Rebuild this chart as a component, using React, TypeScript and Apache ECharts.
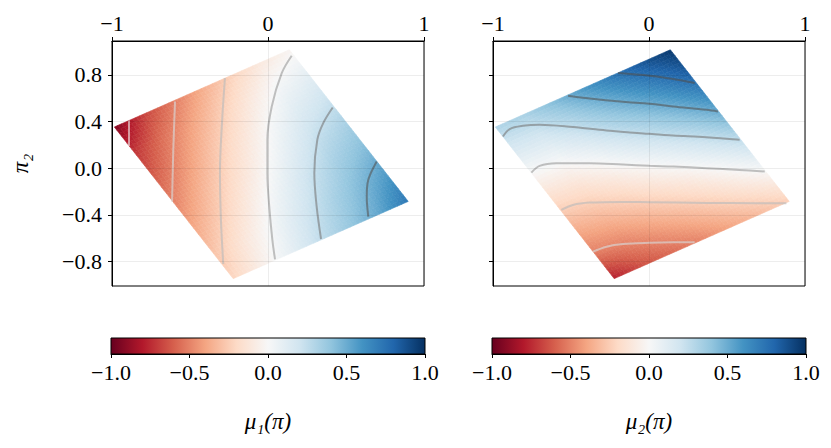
import React, { useEffect, useRef } from "react";
import * as echarts from "echarts";

const FONT = "'Liberation Serif', 'DejaVu Serif', serif";

// Corners of the plotted (projected) domain in (pi1, pi2) coordinates
const cornerLeft: number[] = [-0.985, 0.353];
const cornerTop: number[] = [0.137, 1.015];
const cornerBottom: number[] = [-0.223, -0.947];

const xTicks = [-1, 0, 1];
const yTicks = [-0.8, -0.4, 0, 0.4, 0.8];
const colorbarTicks = [-1, -0.5, 0, 0.5, 1];
const yRange = [-1.01, 1.09];

// Field values at a 7x7 node lattice of the domain.
// rows: from edge L-T (row 0) to edge B-R (row 6); cols: from edge L-B (col 0) to edge T-R (col 6)
const mu1Nodes: number[][] = [
  [-0.93, -0.68, -0.52, -0.37, -0.23, -0.1, -0.03],
  [-0.72, -0.55, -0.4, -0.25, -0.1, 0.03, 0.1],
  [-0.61, -0.45, -0.29, -0.14, 0.01, 0.14, 0.22],
  [-0.5, -0.34, -0.19, -0.04, 0.11, 0.25, 0.34],
  [-0.39, -0.24, -0.08, 0.07, 0.22, 0.35, 0.45],
  [-0.29, -0.13, 0.02, 0.17, 0.31, 0.44, 0.58],
  [-0.22, -0.06, 0.09, 0.25, 0.38, 0.52, 0.72],
];
const mu2Nodes: number[][] = [
  [0.31, 0.33, 0.44, 0.58, 0.72, 0.86, 0.97],
  [0.14, 0.16, 0.26, 0.39, 0.52, 0.66, 0.81],
  [-0.03, -0.01, 0.08, 0.2, 0.32, 0.45, 0.6],
  [-0.2, -0.17, -0.09, 0.01, 0.12, 0.24, 0.38],
  [-0.36, -0.32, -0.25, -0.16, -0.07, 0.04, 0.16],
  [-0.51, -0.48, -0.41, -0.33, -0.24, -0.14, -0.04],
  [-0.78, -0.64, -0.57, -0.49, -0.4, -0.32, -0.24],
];

// Contour lines
const mu1ContourM075 = [[-0.891, 0.409], [-0.891, 0.191]];
const mu1ContourM050 = [[-0.596, 0.572], [-0.607, 0.157], [-0.615, -0.287]];
const mu1ContourM025 = [[-0.276, 0.773], [-0.295, 0.386], [-0.308, -0.04], [-0.301, -0.472], [-0.287, -0.821]];
const mu1Contour000 = [[0.152, 0.964], [0.088, 0.815], [0.024, 0.529], [-0.004, 0.243], [-0.004, -0.043], [0.008, -0.33], [0.028, -0.615], [0.045, -0.781]];
const mu1ContourP025 = [[0.415, 0.52], [0.354, 0.386], [0.316, 0.243], [0.297, -0.043], [0.312, -0.33], [0.34, -0.607]];
const mu1ContourP050 = [[0.697, 0.057], [0.643, -0.1], [0.633, -0.244], [0.643, -0.415]];

const mu2ContourP075 = [[-0.199, 0.815], [0.004, 0.792], [0.154, 0.764], [0.293, 0.73]];
const mu2ContourP050 = [[-0.519, 0.621], [-0.38, 0.597], [-0.167, 0.569], [0.004, 0.552], [0.154, 0.529], [0.368, 0.5], [0.442, 0.486]];
const mu2ContourP025 = [[-0.936, 0.271], [-0.893, 0.335], [-0.808, 0.363], [-0.701, 0.372], [-0.487, 0.352], [-0.273, 0.323], [0.004, 0.294], [0.154, 0.28], [0.368, 0.266], [0.581, 0.243]];
const mu2Contour000 = [[-0.754, -0.038], [-0.701, 0.02], [-0.594, 0.043], [-0.38, 0.043], [-0.167, 0.031], [0.004, 0.02], [0.154, 0.014], [0.368, 0.0], [0.581, -0.015], [0.742, -0.029]];
const mu2ContourM025 = [[-0.562, -0.358], [-0.487, -0.315], [-0.38, -0.295], [-0.167, -0.289], [0.004, -0.292], [0.368, -0.298], [0.688, -0.3], [0.881, -0.3]];
const mu2ContourM050 = [[-0.359, -0.716], [-0.273, -0.673], [-0.167, -0.65], [0.004, -0.639], [0.154, -0.635], [0.293, -0.635]];

// styles
const rdbuStops = ["#67001f", "#b2182b", "#d6604d", "#f4a582", "#fddbc7", "#f7f7f7", "#d1e5f0", "#92c5de", "#4393c3", "#2166ac", "#053061"];
const contourColor: Record<string, string> = {
  "-0.75": "rgba(238,238,238,0.6)",
  "-0.5": "rgba(215,215,215,0.65)",
  "-0.25": "rgba(188,188,188,0.65)",
  "0": "rgba(160,160,160,0.65)",
  "0.25": "rgba(120,120,120,0.6)",
  "0.5": "rgba(85,85,85,0.6)",
  "0.75": "rgba(80,80,80,0.6)",
};

const hexToRgb = (h: string) => [parseInt(h.slice(1, 3), 16), parseInt(h.slice(3, 5), 16), parseInt(h.slice(5, 7), 16)];
const rdbuRgb = rdbuStops.map(hexToRgb);
function rdbu(v: number): string {
  const u = (Math.max(-1, Math.min(1, v)) + 1) / 2;
  const f = u * (rdbuRgb.length - 1);
  const k = Math.min(rdbuRgb.length - 2, Math.floor(f));
  const r = f - k;
  const a = rdbuRgb[k], b = rdbuRgb[k + 1];
  const c = [0, 1, 2].map((q) => Math.round(a[q] + (b[q] - a[q]) * r));
  return `rgb(${c[0]},${c[1]},${c[2]})`;
}

const fmt = (v: number, d: number) => {
  const s = Math.abs(v).toFixed(d);
  return (v < -1e-9 ? "\u2212" : "") + s;
};

function domainPoint(s: number, t: number): number[] {
  return [
    cornerLeft[0] + s * (cornerTop[0] - cornerLeft[0]) + t * (cornerBottom[0] - cornerLeft[0]),
    cornerLeft[1] + s * (cornerTop[1] - cornerLeft[1]) + t * (cornerBottom[1] - cornerLeft[1]),
  ];
}

function cellsOf(nodes: number[][]) {
  const out: number[][] = [];
  for (let j = 0; j < nodes.length - 1; j++)
    for (let i = 0; i < nodes[0].length - 1; i++) out.push([i, j]);
  return out;
}

function fieldRenderer(nodes: number[][]) {
  const ns = nodes[0].length - 1;
  const nt = nodes.length - 1;
  const sub = 8;
  return (_params: any, api: any) => {
    const ci = api.value(0);
    const cj = api.value(1);
    const pts: number[][][] = [];
    for (let b = 0; b <= sub; b++) {
      const row: number[][] = [];
      for (let a = 0; a <= sub; a++) {
        row.push(api.coord(domainPoint((ci + a / sub) / ns, (cj + b / sub) / nt)));
      }
      pts.push(row);
    }
    const v00 = nodes[cj][ci], v10 = nodes[cj][ci + 1], v01 = nodes[cj + 1][ci], v11 = nodes[cj + 1][ci + 1];
    const children: any[] = [];
    for (let b = 0; b < sub; b++) {
      for (let a = 0; a < sub; a++) {
        const fa = (a + 0.5) / sub, fb = (b + 0.5) / sub;
        const v = (1 - fa) * (1 - fb) * v00 + fa * (1 - fb) * v10 + (1 - fa) * fb * v01 + fa * fb * v11;
        const col = rdbu(v);
        children.push({
          type: "polygon",
          shape: { points: [pts[b][a], pts[b][a + 1], pts[b + 1][a + 1], pts[b + 1][a]] },
          style: { fill: col, stroke: col, lineWidth: 0.6 },
        });
      }
    }
    return { type: "group", children };
  };
}

function contourSeries(points: number[][], level: string, idx: number) {
  return {
    type: "line",
    xAxisIndex: idx,
    yAxisIndex: idx,
    data: points,
    showSymbol: false,
    smooth: 0.35,
    silent: true,
    z: 3,
    lineStyle: { color: contourColor[level], width: 2 },
  };
}

const labelStyle = { fontFamily: FONT, fontSize: 22, color: "#000" };

function panelAxes(grid: number, showYLabels: boolean) {
  const x = {
    type: "value",
    gridIndex: grid,
    position: "top",
    min: xTicks[0],
    max: xTicks[xTicks.length - 1],
    interval: 1,
    z: 4,
    axisLine: { show: true, onZero: false, lineStyle: { color: "#000", width: 1 } },
    axisTick: { show: true, inside: false, length: 4, lineStyle: { color: "#000" } },
    axisLabel: { ...labelStyle, margin: 7, formatter: (v: number) => fmt(v, 0) },
    splitLine: { show: true, lineStyle: { color: "rgba(0,0,0,0.07)", width: 1 } },
  };
  const y: any = {
    type: "value",
    gridIndex: grid,
    min: yRange[0],
    max: yRange[1],
    z: 4,
    axisLine: { show: true, onZero: false, lineStyle: { color: "#000", width: 1 } },
    axisTick: { show: true, inside: false, length: 4, customValues: yTicks, lineStyle: { color: "#000" } },
    axisLabel: { ...labelStyle, show: showYLabels, margin: 10, customValues: yTicks, formatter: (v: number) => fmt(v, 1) },
    splitLine: { show: true, lineStyle: { color: "rgba(0,0,0,0.07)", width: 1 } },
  };
  if (showYLabels) {
    y.name = "\u03c0\u2082";
    y.nameLocation = "middle";
    y.nameRotate = 90;
    y.nameGap = 80;
    y.nameTextStyle = { fontFamily: FONT, fontSize: 23, fontStyle: "italic", color: "#000" };
  }
  return { x, y };
}

function colorbarAxes(grid: number, name: string) {
  return {
    x: {
      type: "value",
      gridIndex: grid,
      position: "bottom",
      min: colorbarTicks[0],
      max: colorbarTicks[colorbarTicks.length - 1],
      interval: 0.5,
      axisLine: { show: true, onZero: false, lineStyle: { color: "#000", width: 1 } },
      axisTick: { show: true, inside: false, length: 4, lineStyle: { color: "#000" } },
      axisLabel: { ...labelStyle, margin: 7, formatter: (v: number) => fmt(v, 1) },
      splitLine: { show: false },
      name,
      nameLocation: "middle",
      nameGap: 56,
      nameTextStyle: { fontFamily: FONT, fontSize: 23, fontStyle: "italic", color: "#000" },
    },
    y: { type: "value", gridIndex: grid, min: 0, max: 1, show: false },
  };
}

function colorbarSeries(idx: number) {
  return {
    type: "custom",
    xAxisIndex: idx,
    yAxisIndex: idx,
    silent: true,
    data: [[colorbarTicks[0], colorbarTicks[colorbarTicks.length - 1]]],
    renderItem: (_p: any, api: any) => {
      const p0 = api.coord([api.value(0), 0]);
      const p1 = api.coord([api.value(1), 1]);
      return {
        type: "rect",
        shape: { x: p0[0], y: p1[1], width: p1[0] - p0[0], height: p0[1] - p1[1] },
        style: {
          fill: new echarts.graphic.LinearGradient(0, 0, 1, 0, rdbuStops.map((c, k) => ({ offset: k / (rdbuStops.length - 1), color: c }))),
          stroke: "#000",
          lineWidth: 1,
        },
      };
    },
  };
}

export default function App() {
  const ref = useRef<HTMLDivElement>(null);
  useEffect(() => {
    if (!ref.current) return;
    const chart = echarts.init(ref.current, undefined, { renderer: "svg" });
    const p0 = panelAxes(0, true);
    const p1 = panelAxes(1, false);
    const c0 = colorbarAxes(2, "\u03bc\u2081(\u03c0)");
    const c1 = colorbarAxes(3, "\u03bc\u2082(\u03c0)");
    const gridFrame = { show: true, borderColor: "#000", borderWidth: 1, backgroundColor: "transparent" };
    chart.setOption({
      animation: false,
      backgroundColor: "#fff",
      grid: [
        { left: 112, top: 41, width: 312, height: 245, ...gridFrame },
        { left: 493, top: 41, width: 312, height: 245, ...gridFrame },
        { left: 111, top: 338, width: 314, height: 16 },
        { left: 492, top: 338, width: 314, height: 16 },
      ],
      xAxis: [p0.x, p1.x, c0.x, c1.x],
      yAxis: [p0.y, p1.y, c0.y, c1.y],
      series: [
        {
          type: "custom",
          xAxisIndex: 0,
          yAxisIndex: 0,
          silent: true,
          z: 2,
          data: cellsOf(mu1Nodes),
          renderItem: fieldRenderer(mu1Nodes),
        },
        {
          type: "custom",
          xAxisIndex: 1,
          yAxisIndex: 1,
          silent: true,
          z: 2,
          data: cellsOf(mu2Nodes),
          renderItem: fieldRenderer(mu2Nodes),
        },
        contourSeries(mu1ContourM075, "-0.75", 0),
        contourSeries(mu1ContourM050, "-0.5", 0),
        contourSeries(mu1ContourM025, "-0.25", 0),
        contourSeries(mu1Contour000, "0", 0),
        contourSeries(mu1ContourP025, "0.25", 0),
        contourSeries(mu1ContourP050, "0.5", 0),
        contourSeries(mu2ContourP075, "0.75", 1),
        contourSeries(mu2ContourP050, "0.5", 1),
        contourSeries(mu2ContourP025, "0.25", 1),
        contourSeries(mu2Contour000, "0", 1),
        contourSeries(mu2ContourM025, "-0.25", 1),
        contourSeries(mu2ContourM050, "-0.5", 1),
        colorbarSeries(2),
        colorbarSeries(3),
      ],
    });
    return () => chart.dispose();
  }, []);
  return <div ref={ref} style={{ position: "fixed", left: 0, top: 0, width: 831, height: 448 }} />;
}
